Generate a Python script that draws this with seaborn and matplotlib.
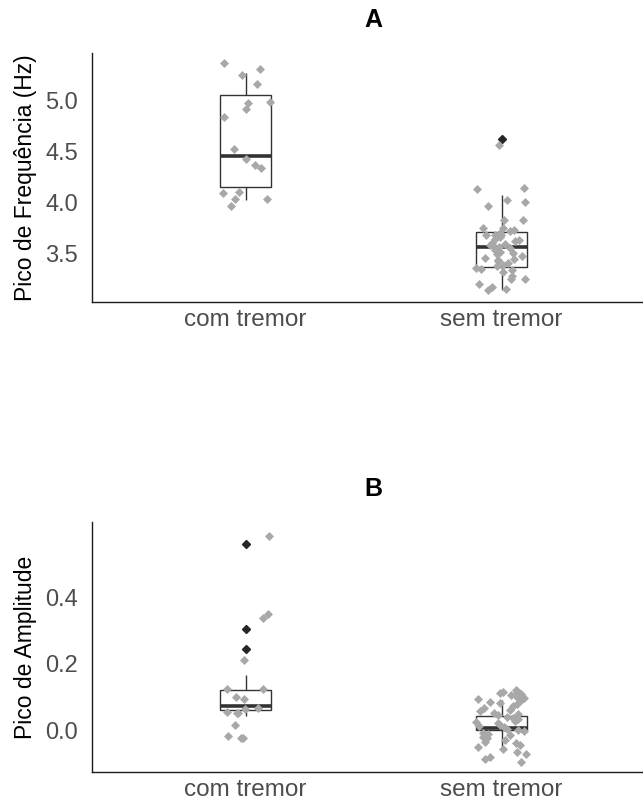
import numpy as np
import pandas as pd
import matplotlib
matplotlib.use("Agg")
import matplotlib.pyplot as plt
import seaborn as sns

sns.set_theme(style="white")
plt.rcParams['font.family'] = ['Liberation Sans', 'DejaVu Sans']

categorias = ["com tremor", "sem tremor"]

# Panel A - Pico de Frequência (Hz): underlying values (box) and jittered display values (points)
freq_com_box = [4.02, 4.04, 4.07, 4.10, 4.15, 4.30, 4.36, 4.42, 4.45, 4.55, 4.85, 4.95,
                5.05, 5.12, 5.20, 5.24, 5.27]
freq_sem_box = [3.14, 3.16, 3.19, 3.23, 3.26, 3.29, 3.31, 3.33, 3.34, 3.35, 3.36, 3.36,
                3.363, 3.39, 3.42, 3.43, 3.45, 3.47, 3.49, 3.50, 3.52, 3.53, 3.54, 3.55,
                3.556, 3.57, 3.58, 3.59, 3.60, 3.62, 3.63, 3.65, 3.67, 3.68, 3.70, 3.705,
                3.709, 3.72, 3.74, 3.75, 3.78, 3.82, 3.85, 3.93, 3.97, 4.00, 4.03, 4.07, 4.62]
freq_com_pts = [5.36, 5.30, 5.245, 5.16, 4.98, 4.97, 4.91, 4.83, 4.52, 4.42, 4.36, 4.33,
                4.10, 4.09, 4.03, 4.03, 3.96]
freq_sem_pts = [4.56, 4.14, 4.13, 4.02, 4.00, 3.96, 3.82, 3.82, 3.75, 3.75, 3.73, 3.72,
                3.70, 3.68, 3.68, 3.68, 3.66, 3.64, 3.63, 3.62, 3.60, 3.59, 3.58, 3.56,
                3.56, 3.55, 3.53, 3.51, 3.50, 3.49, 3.47, 3.45, 3.44, 3.43, 3.42, 3.40,
                3.38, 3.37, 3.35, 3.34, 3.33, 3.31, 3.28, 3.25, 3.25, 3.20, 3.17, 3.15, 3.14]

# Panel B - Pico de Amplitude
amp_com_box = [0.042, 0.048, 0.052, 0.056, 0.060, 0.062, 0.065, 0.070, 0.073, 0.090,
               0.100, 0.110, 0.120, 0.165, 0.245, 0.303, 0.561]
amp_sem_box = [-0.060, -0.052, -0.045, -0.038, -0.030, -0.024, -0.018, -0.013, -0.009,
               -0.006, -0.003, -0.001, 0.000, 0.001, 0.002, 0.002, 0.003, 0.003, 0.004,
               0.004, 0.005, 0.005, 0.006, 0.006, 0.007, 0.009, 0.011, 0.014, 0.017,
               0.020, 0.024, 0.028, 0.031, 0.035, 0.038, 0.041, 0.043, 0.047, 0.052,
               0.056, 0.060, 0.064, 0.068, 0.072, 0.076, 0.080, 0.084, 0.087, 0.090]
amp_com_pts = [0.584, 0.348, 0.338, 0.211, 0.125, 0.124, 0.100, 0.093, 0.067, 0.065,
               0.054, 0.052, 0.052, 0.014, -0.017, -0.023, -0.023]
amp_sem_pts = [0.120, 0.118, 0.115, 0.112, 0.110, 0.108, 0.105, 0.100, 0.098, 0.095,
               0.090, 0.085, 0.082, 0.078, 0.072, 0.068, 0.062, 0.058, 0.052, 0.048,
               0.045, 0.040, 0.036, 0.032, 0.028, 0.024, 0.020, 0.016, 0.012, 0.008,
               0.004, 0.000, -0.004, -0.008, -0.012, -0.016, -0.020, -0.025, -0.030,
               -0.035, -0.040, -0.045, -0.050, -0.058, -0.065, -0.072, -0.080, -0.088, -0.096]

freq_ticks = [3.5, 4.0, 4.5, 5.0]
amp_ticks = [0.0, 0.2, 0.4]


def frame(a, b):
    return pd.DataFrame({"grupo": [categorias[0]] * len(a) + [categorias[1]] * len(b),
                         "valor": list(a) + list(b)})


fig = plt.figure(figsize=(6.43, 8.08), dpi=100)
axA = fig.add_axes([0.143, 0.6262, 0.876, 0.308])
axB = fig.add_axes([0.143, 0.04455, 0.876, 0.3094])

np.random.seed(7)


def panel(ax, box_a, box_b, pts_a, pts_b, title, ylabel, ticks, ylim):
    sns.boxplot(data=frame(box_a, box_b), x="grupo", y="valor", order=categorias,
                width=0.2, color="white", linecolor="#333333", linewidth=1.0,
                showcaps=False,
                flierprops=dict(marker="D", markerfacecolor="#262626",
                                markeredgecolor="#262626", markersize=4.2),
                medianprops=dict(linewidth=2.6, color="#333333"),
                ax=ax)
    sns.stripplot(data=frame(pts_a, pts_b), x="grupo", y="valor", order=categorias,
                  jitter=0.1, marker="D", color="#A8A8A8", size=4.6, linewidth=0,
                  ax=ax, zorder=3)
    ax.set_xlim(-0.6, 1.6)
    ax.set_ylim(*ylim)
    ax.set_yticks(ticks)
    ax.set_yticklabels([f"{t:.1f}" for t in ticks])
    ax.set_xlabel("")
    ax.set_ylabel(ylabel, fontsize=16.5, color="black", labelpad=6)
    ax.set_title(title, fontsize=18, fontweight="bold", color="black", pad=19)
    for s in ["top", "right"]:
        ax.spines[s].set_visible(False)
    for s in ["left", "bottom"]:
        ax.spines[s].set_color("#1a1a1a")
        ax.spines[s].set_linewidth(1.0)
    ax.tick_params(axis="y", length=0, pad=10, labelsize=17, labelcolor="#4D4D4D")
    ax.tick_params(axis="x", length=0, pad=5, labelsize=17.5, labelcolor="#4D4D4D")
    ax.grid(False)
    ax.set_facecolor("white")


panel(axA, freq_com_box, freq_sem_box, freq_com_pts, freq_sem_pts, "A",
      "Pico de Frequência (Hz)", freq_ticks, (3.02, 5.46))
panel(axB, amp_com_box, amp_sem_box, amp_com_pts, amp_sem_pts, "B",
      "Pico de Amplitude", amp_ticks, (-0.126, 0.626))

fig.savefig("out.png", dpi=100)
